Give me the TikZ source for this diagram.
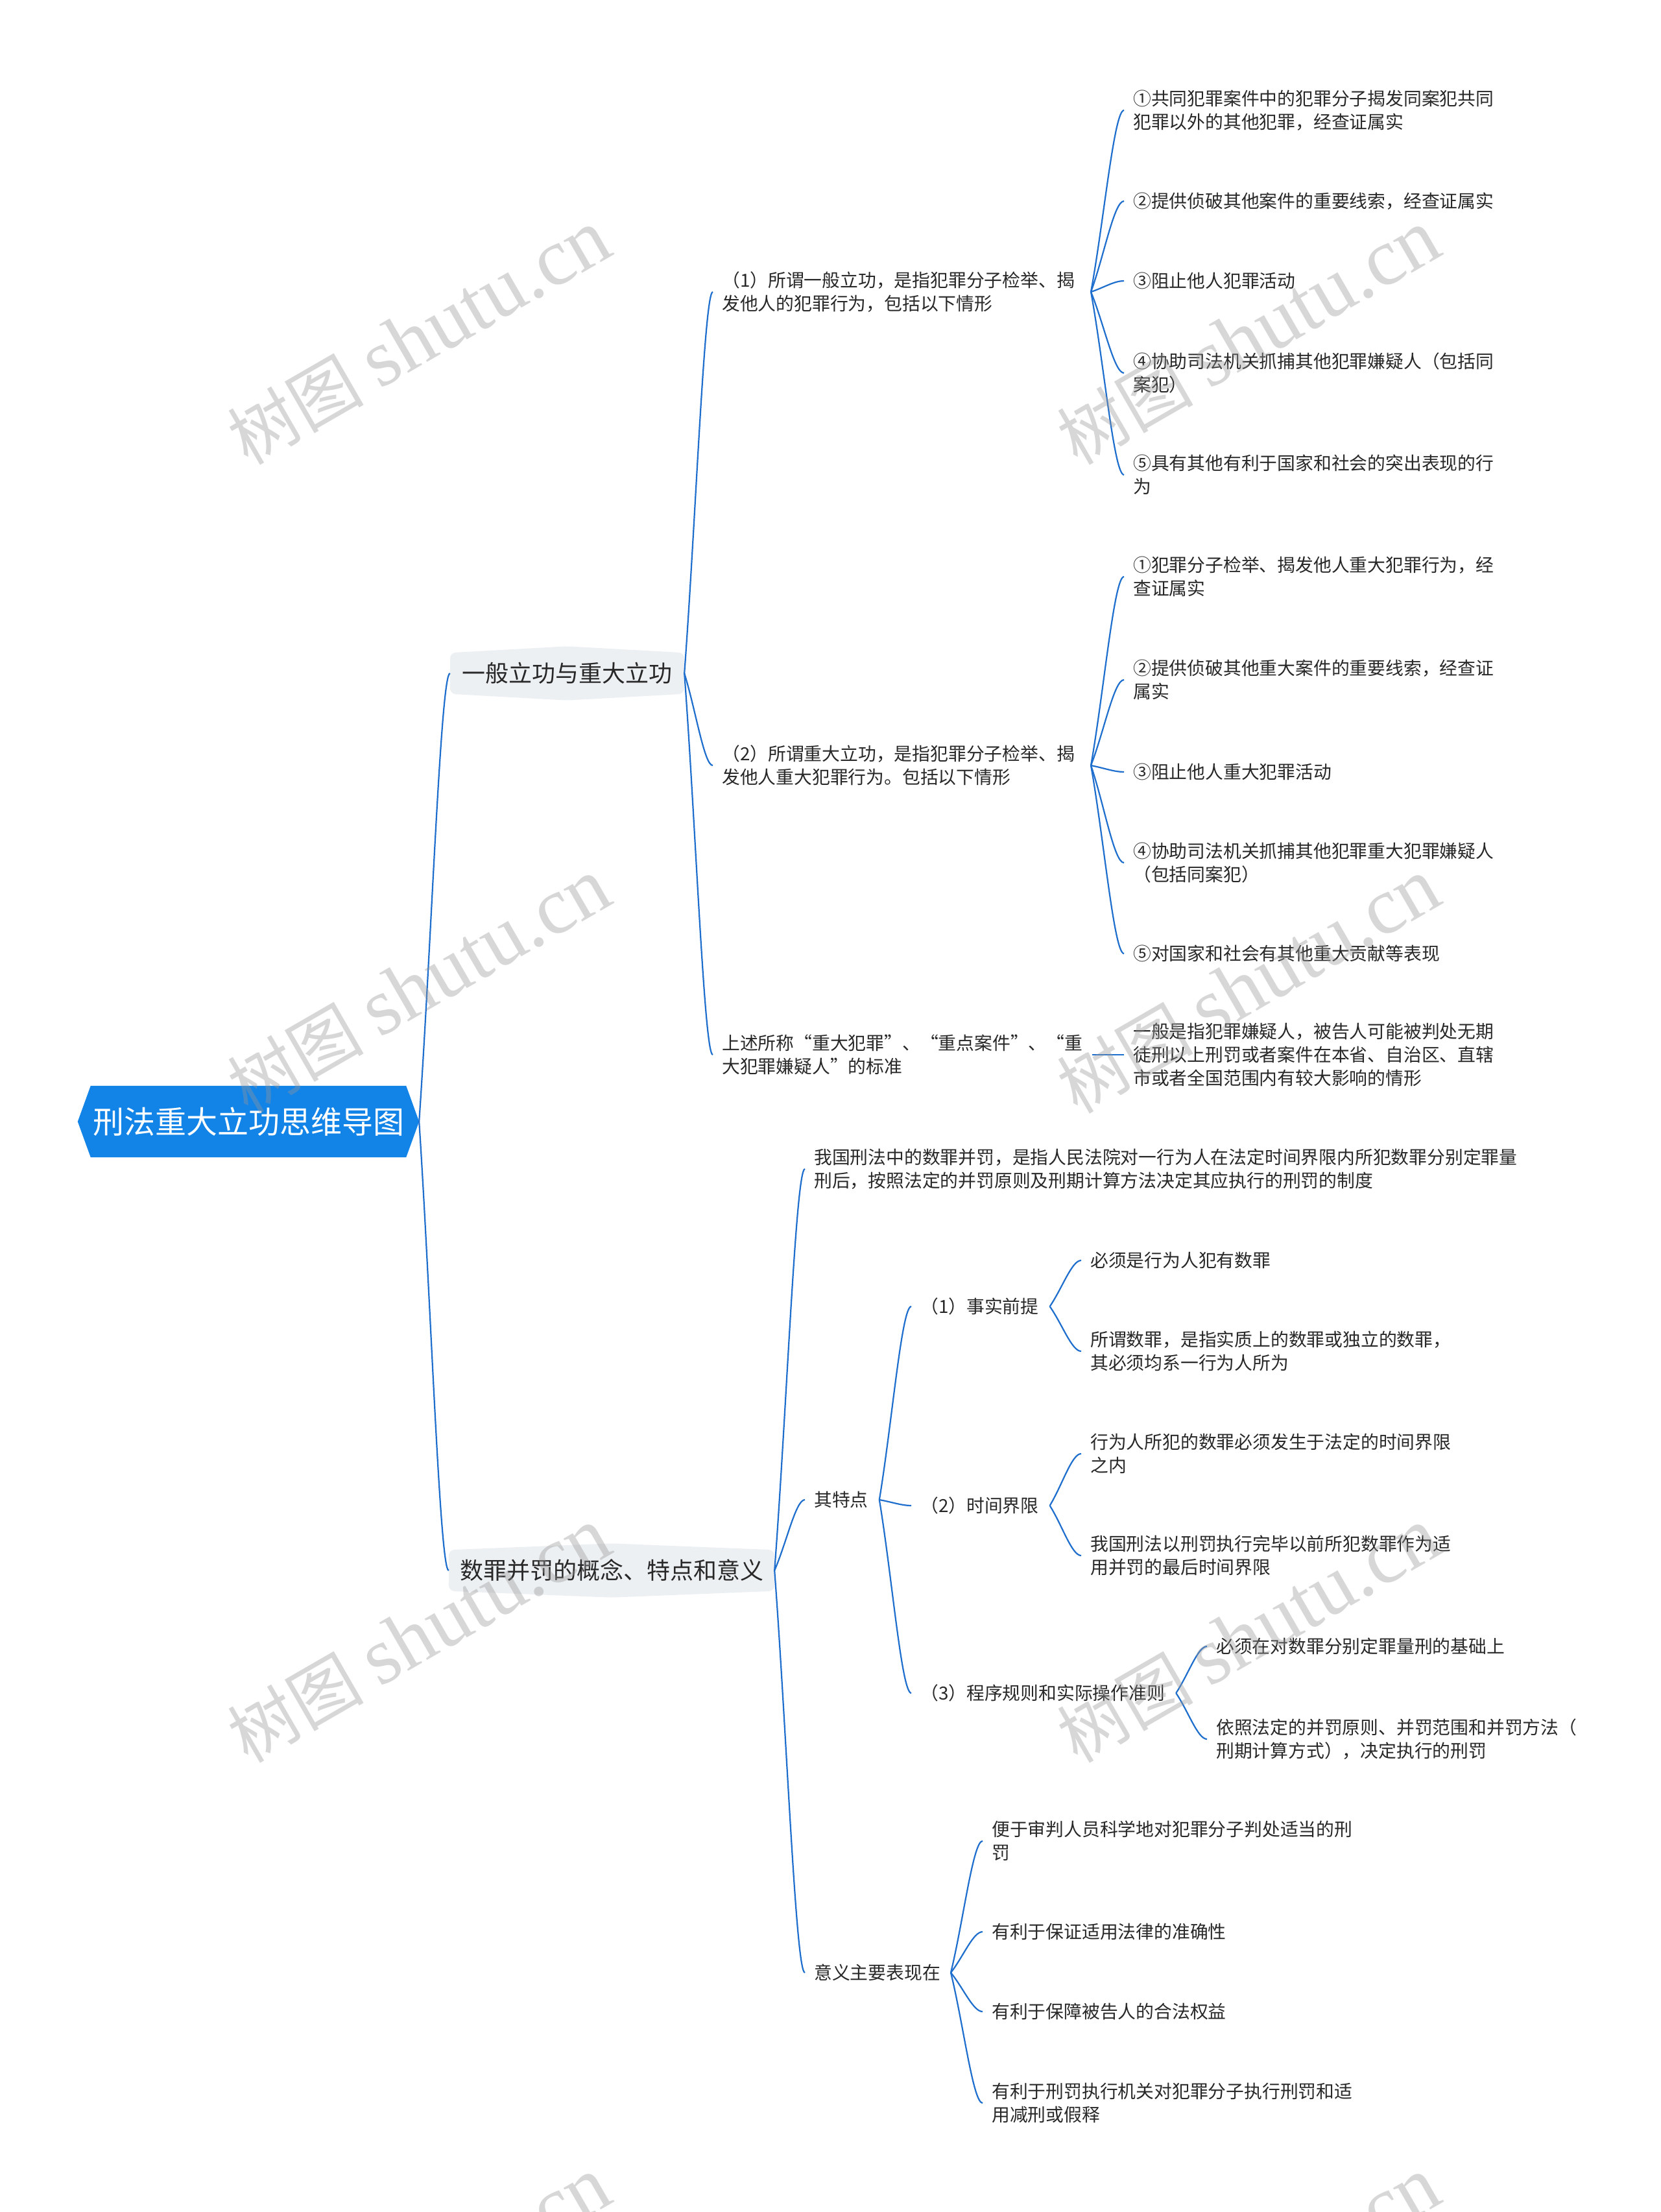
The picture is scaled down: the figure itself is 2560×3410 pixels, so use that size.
\documentclass[tikz,border=0pt]{standalone}
\usepackage{fontspec}
\setmainfont{Noto Sans CJK SC}
\newfontfamily\wmlatin{Liberation Serif}
\newfontfamily\wmcjk{Noto Sans CJK SC}
\usetikzlibrary{calc,backgrounds}
\definecolor{linkblue}{RGB}{30,110,205}
\definecolor{rootblue}{RGB}{18,132,232}
\definecolor{branchgray}{RGB}{237,240,243}
\definecolor{txt}{RGB}{40,40,40}
\definecolor{wmgray}{RGB}{150,150,150}
\tikzset{
  conn/.style={draw=linkblue, line width=2.2pt},
  leaf/.style={anchor=west, inner xsep=14pt, inner ysep=0pt, align=left, text=txt, font=\fontsize{27.8}{36}\selectfont},
  branch/.style={inner sep=0pt, text=txt, font=\fontsize{36}{40}\selectfont, minimum height=63pt},
  rootnode/.style={inner sep=0pt, text=white, font=\fontsize{48}{50}\selectfont, minimum width=526pt, minimum height=110pt},
  wm/.style={rotate=30, text=wmgray, inner sep=0pt, opacity=0.38},
}
\newcommand\lnk[2]{\draw[conn] (#1) .. controls ($(#1)!0.4!(#2)$) and ($(#1 |- #2)!0.7!(#2)$) .. (#2);}
\begin{document}
\begin{tikzpicture}[x=1pt,y=-1pt]
\useasboundingbox (0,0) rectangle (2560,3410);
\clip (0,0) rectangle (2560,3410);

% root
\node[rootnode] (root) at (383,1729) {刑法重大立功思维导图};

% branches
\node[branch, minimum width=361pt] (br1) at (874.5,1038) {一般立功与重大立功};
\node[branch, minimum width=502pt] (br2) at (943,2421) {数罪并罚的概念、特点和意义};
\begin{scope}[on background layer]
\fill[white] (0,0) rectangle (2560,3410);
\fill[rootblue] (root.west) -- ([xshift=20pt]root.north west) -- ([xshift=-20pt]root.north east) -- (root.east) -- ([xshift=-20pt]root.south east) -- ([xshift=20pt]root.south west) -- cycle;
\foreach \b in {br1,br2}{
\fill[branchgray, rounded corners=9pt] (\b.north west) -- ($(\b.north)+(0,-10)$) -- (\b.north east) -- (\b.south east) -- ($(\b.south)+(0,10)$) -- (\b.south west) -- cycle;
}
\end{scope}
\lnk{root.east}{br1.west}
\lnk{root.east}{br2.west}

% level a
\node[leaf] (a1) at (1099,450) {（1）所谓一般立功，是指犯罪分子检举、揭\\发他人的犯罪行为，包括以下情形};
\node[leaf] (a2) at (1099,1180) {（2）所谓重大立功，是指犯罪分子检举、揭\\发他人重大犯罪行为。包括以下情形};
\node[leaf] (a3) at (1099,1626) {上述所称“重大犯罪”、“重点案件”、“重\\大犯罪嫌疑人”的标准};
\lnk{br1.east}{a1.west}
\lnk{br1.east}{a2.west}
\lnk{br1.east}{a3.west}
\coordinate (a1j) at ([xshift=11pt]a1.east);
\coordinate (a2j) at ([xshift=11pt]a2.east);
\coordinate (a3j) at ([xshift=1pt]a3.east);

% b
\node[leaf] (b1) at (1733,170) {①共同犯罪案件中的犯罪分子揭发同案犯共同\\犯罪以外的其他犯罪，经查证属实};
\node[leaf] (b2) at (1733,310) {②提供侦破其他案件的重要线索，经查证属实};
\node[leaf] (b3) at (1733,433) {③阻止他人犯罪活动};
\node[leaf] (b4) at (1733,575) {④协助司法机关抓捕其他犯罪嫌疑人（包括同\\案犯）};
\node[leaf] (b5) at (1733,732) {⑤具有其他有利于国家和社会的突出表现的行\\为};
\foreach \n in {b1,b2,b3,b4,b5}{\lnk{a1j}{\n.west}}

% c
\node[leaf] (c1) at (1733,889) {①犯罪分子检举、揭发他人重大犯罪行为，经\\查证属实};
\node[leaf] (c2) at (1733,1048) {②提供侦破其他重大案件的重要线索，经查证\\属实};
\node[leaf] (c3) at (1733,1190) {③阻止他人重大犯罪活动};
\node[leaf] (c4) at (1733,1330) {④协助司法机关抓捕其他犯罪重大犯罪嫌疑人\\（包括同案犯）};
\node[leaf] (c5) at (1733,1470) {⑤对国家和社会有其他重大贡献等表现};
\foreach \n in {c1,c2,c3,c4,c5}{\lnk{a2j}{\n.west}}

% d
\node[leaf] (d1) at (1733,1626) {一般是指犯罪嫌疑人，被告人可能被判处无期\\徒刑以上刑罚或者案件在本省、自治区、直辖\\市或者全国范围内有较大影响的情形};
\draw[conn] (a3j) -- (d1.west);

% branch 2
\node[leaf] (e1) at (1241,1802) {我国刑法中的数罪并罚，是指人民法院对一行为人在法定时间界限内所犯数罪分别定罪量\\刑后，按照法定的并罚原则及刑期计算方法决定其应执行的刑罚的制度};
\node[leaf] (e2) at (1241,2312) {其特点};
\node[leaf] (e3) at (1241,3041) {意义主要表现在};
\lnk{br2.east}{e1.west}
\lnk{br2.east}{e2.west}
\lnk{br2.east}{e3.west}

\node[leaf] (f1) at (1405,2014) {（1）事实前提};
\node[leaf] (f2) at (1405,2321) {（2）时间界限};
\node[leaf] (f3) at (1405,2610) {（3）程序规则和实际操作准则};
\coordinate (e2j) at ([xshift=3pt]e2.east);
\foreach \n in {f1,f2,f3}{\lnk{e2j}{\n.west}}

\node[leaf] (g1) at (1667,1943) {必须是行为人犯有数罪};
\node[leaf] (g2) at (1667,2083) {所谓数罪，是指实质上的数罪或独立的数罪，\\其必须均系一行为人所为};
\node[leaf] (g3) at (1667,2241) {行为人所犯的数罪必须发生于法定的时间界限\\之内};
\node[leaf] (g4) at (1667,2398) {我国刑法以刑罚执行完毕以前所犯数罪作为适\\用并罚的最后时间界限};
\node[leaf] (g5) at (1861,2538) {必须在对数罪分别定罪量刑的基础上};
\node[leaf] (g6) at (1861,2681) {依照法定的并罚原则、并罚范围和并罚方法（\\刑期计算方式），决定执行的刑罚};
\coordinate (f1j) at ([xshift=3pt]f1.east);
\coordinate (f2j) at ([xshift=3pt]f2.east);
\coordinate (f3j) at ([xshift=3pt]f3.east);
\lnk{f1j}{g1.west}
\lnk{f1j}{g2.west}
\lnk{f2j}{g3.west}
\lnk{f2j}{g4.west}
\lnk{f3j}{g5.west}
\lnk{f3j}{g6.west}

\node[leaf] (h1) at (1515,2838) {便于审判人员科学地对犯罪分子判处适当的刑\\罚};
\node[leaf] (h2) at (1515,2978) {有利于保证适用法律的准确性};
\node[leaf] (h3) at (1515,3101) {有利于保障被告人的合法权益};
\node[leaf] (h4) at (1515,3242) {有利于刑罚执行机关对犯罪分子执行刑罚和适\\用减刑或假释};
\coordinate (e3j) at ([xshift=2pt]e3.east);
\foreach \n in {h1,h2,h3,h4}{\lnk{e3j}{\n.west}}

% watermarks
\foreach \wx in {646,1925}{
  \foreach \wy in {520,1520,2521,3522}{
    \node[wm] at (\wx,\wy) {{\wmcjk\fontsize{105}{105}\selectfont 树图}\hspace{25pt}{\wmlatin\fontsize{125}{125}\selectfont shutu.cn}};
  }
}
\end{tikzpicture}
\end{document}
